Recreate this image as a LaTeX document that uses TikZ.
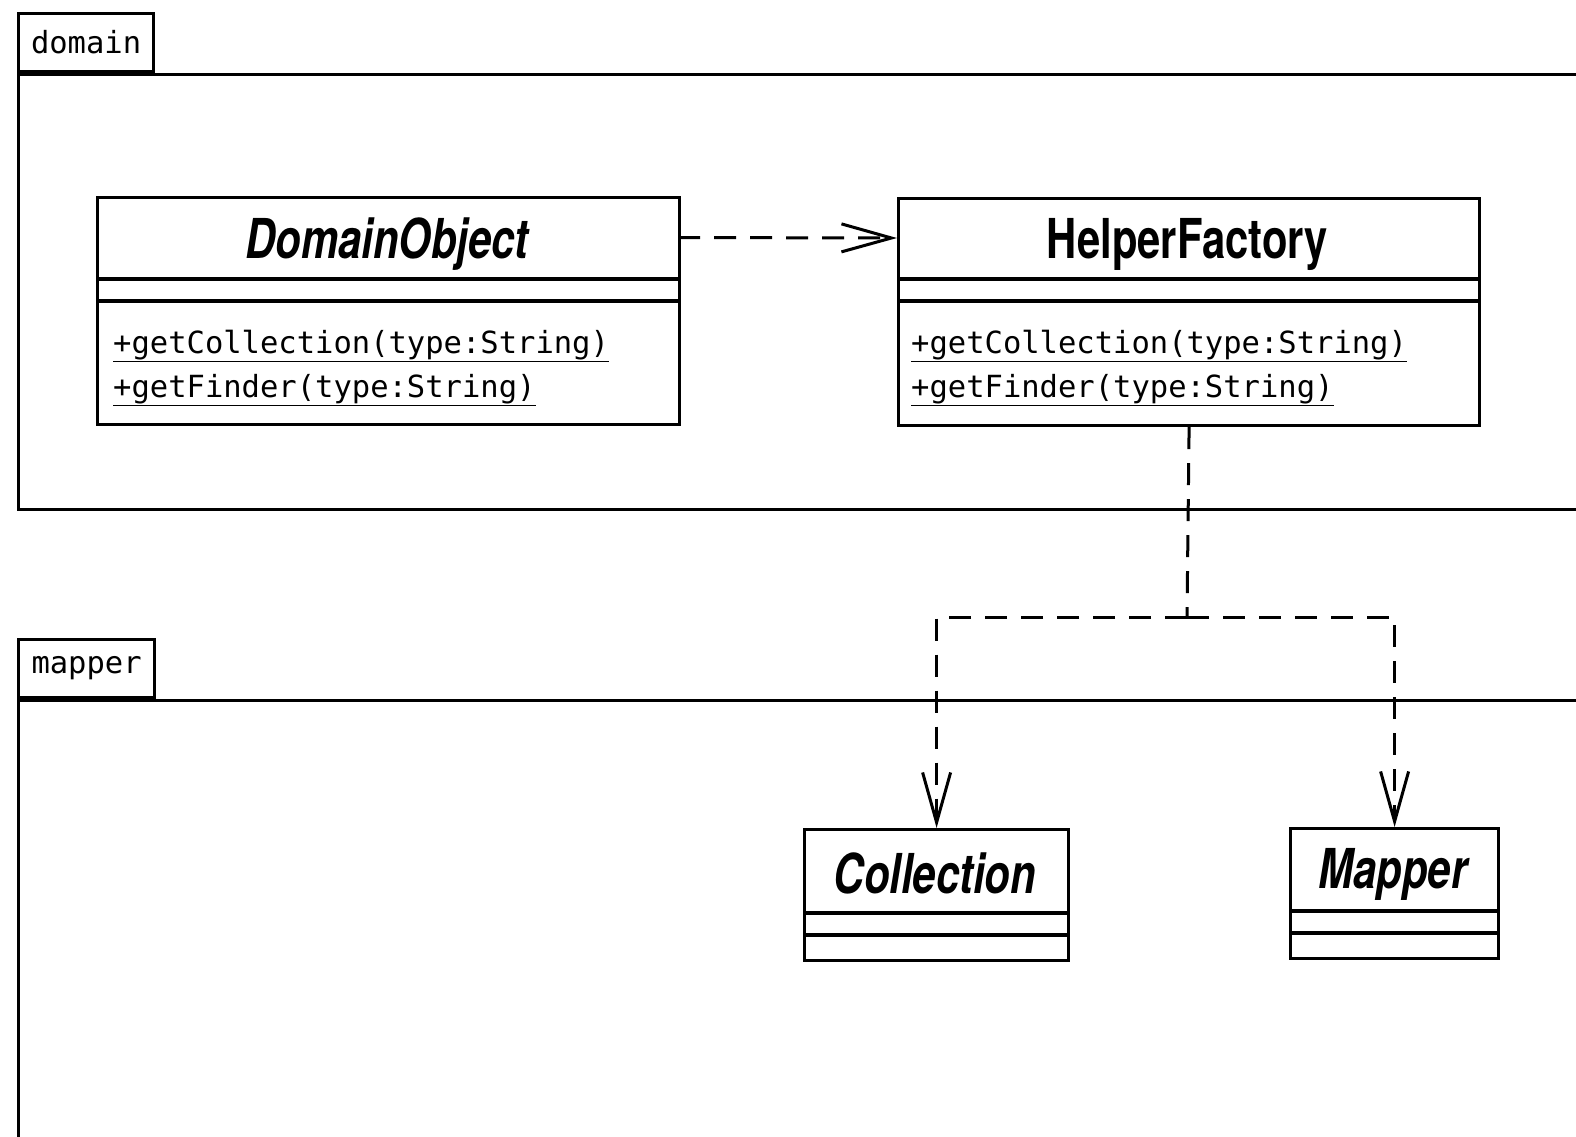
\documentclass[tikz,border=0pt]{standalone}
\usepackage{graphicx}
\usepackage{fontspec}
\setmainfont{TeX Gyre Heros}
\newfontfamily\monof{DejaVu Sans Mono}
\usetikzlibrary{arrows.meta}
\newcommand{\ttl}[1]{\fontsize{55}{60}\selectfont\scalebox{0.76}[1]{\bfseries #1}}
\newcommand{\mth}[1]{\underline{#1}}
\begin{document}
\begin{tikzpicture}[x=1pt,y=-1pt,
  lw/.style={line width=3.2pt},
  tabbox/.style={draw, line width=3.2pt, inner sep=0pt, anchor=south west, font=\monof\fontsize{30.5}{34}\selectfont},
  pkgbody/.style={draw, line width=3.2pt, inner sep=0pt, anchor=north west},
  clsbox/.style={draw, line width=3.2pt, inner sep=0pt, anchor=north west},
  clstitle/.style={inner sep=0pt, outer sep=0pt, anchor=north west, text height=50pt, text depth=9pt},
  methods/.style={anchor=base west, inner sep=0pt, align=left, font=\monof\fontsize{30.5}{44}\selectfont},
  dep/.style={line width=3pt, dash pattern=on 22pt off 14pt},
  open/.style={-{Straight Barb[length=50pt,width=28pt,line width=3pt]}}
]
\useasboundingbox (0,0) rectangle (1576,1136);
\fill[white] (0,0) rectangle (1576,1136);

% packages
\node[pkgbody, minimum width=1600pt, minimum height=435pt] (dompkg) at (17,73) {};
\node[tabbox, minimum width=135pt, minimum height=58pt] (domtab) at (17,73) {domain};
\node[pkgbody, minimum width=1600pt, minimum height=500pt] (mappkg) at (17,699) {};
\node[tabbox, minimum width=136pt, minimum height=58pt] (maptab) at (17,699) {mapper};

% DomainObject
\node[clsbox, fill=white, minimum width=582pt, minimum height=227pt] (do) at (96,196) {};
\node[clstitle, minimum width=582pt, minimum height=83pt] (dot) at (96,196) {\ttl{\itshape DomainObject}};
\draw[lw] (96,279) -- (678,279);
\draw[lw] (96,301) -- (678,301);
\node[methods] (dom) at (113,397) {\mth{+getCollection(type:String)}\\\mth{+getFinder(type:String)}};

% HelperFactory
\node[clsbox, fill=white, minimum width=581pt, minimum height=227pt] (hf) at (897,197) {};
\node[clstitle, minimum width=581pt, minimum height=82pt] (hft) at (897,197) {\ttl{HelperFactory}};
\draw[lw] (897,279) -- (1478,279);
\draw[lw] (897,301) -- (1478,301);
\node[methods] (hfm) at (911,397) {\mth{+getCollection(type:String)}\\\mth{+getFinder(type:String)}};

% Collection
\node[clsbox, fill=white, minimum width=264pt, minimum height=131pt] (coll) at (803,828) {};
\node[clstitle, minimum width=264pt, minimum height=85pt, text height=51pt, text depth=6pt] (collt) at (803,828) {\ttl{\itshape Collection}};
\draw[lw] (803,913) -- (1067,913);
\draw[lw] (803,935) -- (1067,935);

% Mapper
\node[clsbox, fill=white, minimum width=208pt, minimum height=130pt] (map) at (1289,827) {};
\node[clstitle, minimum width=208pt, minimum height=84pt, text height=48pt, text depth=10pt] (mapt) at (1289,827) {\ttl{\itshape Mapper}};
\draw[lw] (1289,911) -- (1497,911);
\draw[lw] (1289,933) -- (1497,933);

% dependencies
\draw[dep, open] (dot.east) -- (hft.west);
\coordinate (split) at (1187,617);
\draw[dep] (hf.south) -- (split);
\draw[dep, open] (split) -| (coll.north);
\draw[dep, open] (split) -| (map.north);
\end{tikzpicture}
\end{document}
